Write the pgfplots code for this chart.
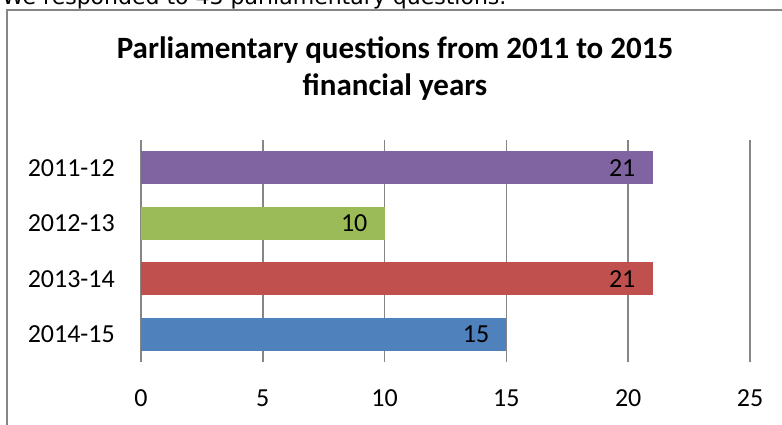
\documentclass[border=0pt]{standalone}
\usepackage{pgfplots}
\pgfplotsset{compat=1.18}
\usepackage{fontspec}
\setmainfont{Carlito}
\newfontfamily\topfont{DejaVu Sans}
\definecolor{cpurple}{RGB}{128,100,162}
\definecolor{cgreen}{RGB}{155,187,89}
\definecolor{cred}{RGB}{192,80,77}
\definecolor{cblue}{RGB}{79,129,189}
\definecolor{cgrid}{RGB}{134,134,134}
\begin{document}
\begin{tikzpicture}[x=1pt,y=1pt]
\useasboundingbox (0,0) rectangle (782,424);
\node[anchor=base west, inner sep=0pt, font=\topfont\fontsize{22}{26}\selectfont] at (2,419) {We responded to 43 parliamentary questions.};
\draw[cgrid, line width=1.6pt] (7,-10) -- (7,414) -- (800,414);
\node[anchor=base, inner sep=0pt, font=\bfseries\fontsize{31}{37}\selectfont] at (395,365) {Parliamentary questions from 2011 to 2015};
\node[anchor=base, inner sep=0pt, font=\bfseries\fontsize{31}{37}\selectfont] at (395,328) {financial years};
\begin{axis}[at={(141pt,62pt)}, anchor=south west, scale only axis,
  width=609pt, height=222pt,
  xmin=0, xmax=25, ymin=-0.5, ymax=3.5,
  xbar, bar width=33pt, bar shift=0pt,
  xtick={0,5,...,25}, ytick={0,1,2,3},
  yticklabels={2014-15,2013-14,2012-13,2011-12},
  xmajorgrids, grid style={cgrid, line width=1.6pt},
  axis line style={draw=none}, major tick length=0pt,
  /pgf/number format/assume math mode=true,
  tick label style={font=\fontsize{26}{30}\selectfont, inner sep=0pt},
  xticklabel style={anchor=base, yshift=-44pt},
  yticklabel style={anchor=east, xshift=-26pt},
  nodes near coords,
  every node near coord/.append style={anchor=east, xshift=-17pt, inner sep=0pt, font=\fontsize{26}{30}\selectfont, text=black},
  clip=false]
\addplot[fill=cblue, draw=none] coordinates {(15,0)};
\addplot[fill=cred, draw=none] coordinates {(21,1)};
\addplot[fill=cgreen, draw=none] coordinates {(10,2)};
\addplot[fill=cpurple, draw=none] coordinates {(21,3)};
\end{axis}
\end{tikzpicture}
\end{document}
